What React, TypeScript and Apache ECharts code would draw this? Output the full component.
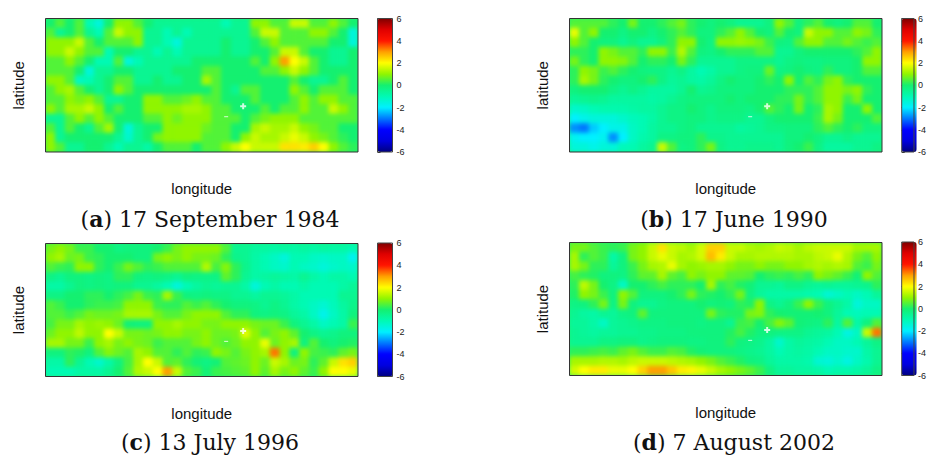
import React, { useEffect, useRef } from "react";
import * as echarts from "echarts";

const panelA = [
[0,.5,0,.5,-1,-1.5,0,1,1,.5,0,-.5,-.5,-.5,-.5,-.5,-.5,-.5,-1,-.5,-.5,1,1,.5,.5,1.5,1.5,.5,.5,1,.5,0],
[.5,-.5,0,.5,-.5,-1,.5,1.5,1,1,-.5,-.5,-1,-.5,-1,-.5,-.5,-.5,-.5,-.5,-.5,.5,1.5,1.5,.5,.5,.5,1,1,.5,0,-1.5],
[1,1,1,1.5,.5,0,.5,.5,.5,1,-.5,-.5,-1,-1.5,-.5,-.5,-.5,-.5,0,-.5,-.5,0,.5,1,.5,.5,.5,.5,.5,0,0,-1.5],
[1,1,1.5,1,.5,.5,-1,0,0,-.5,-.5,-1,-.5,-1,-.5,-.5,-.5,-.5,0,-.5,-.5,0,0,.5,1.5,1.5,.5,0,0,-.5,-.5,0],
[.5,.5,1,.5,0,-1,-1,.5,-1.5,-1,-.5,-.5,-.5,-.5,-.5,0,0,0,0,0,0,.5,0,1,3,2,1.5,.5,0,-.5,-.5,0],
[.5,.5,.5,0,-1.5,-.5,-.5,0,0,-.5,-.5,-.5,-.5,0,0,0,.5,.5,0,0,0,0,.5,.5,1,1.5,1,.5,0,0,0,0],
[1,1,.5,-1.2,-1,-.5,0,.5,.5,-.5,-.5,0,-.5,-.5,0,0,1.2,.5,0,0,0,0,0,0,0,.5,0,-.5,-.5,0,.5,0],
[.5,1,1.2,.5,0,-.5,0,1,.5,0,0,0,0,0,0,0,0,.5,0,-.5,.5,.5,0,0,0,1,.5,0,.5,.5,.5,0],
[.5,.5,1,.8,1,.5,-.5,-.5,0,0,1,1,.5,.5,.7,1,.5,.5,0,0,0,.5,0,0,0,.5,1,.5,1,1,.5,.5],
[1,.5,1.2,1.2,1.5,1,0,.5,0,0,1,1,1,1,1.2,1.2,1,.5,.5,0,0,0,.5,0,.5,.5,1,.5,.5,1.5,1,.5],
[-.5,-.5,.5,1,.5,1,.5,0,0,0,.5,.5,1,.7,1,1,1,.5,.5,.5,0,.5,.8,1,1,1,.5,.5,.5,.5,.5,.5],
[.5,-.5,.5,0,-.5,.5,1.2,0,-1.5,-.5,0,0,1,1,1,1,.7,.5,.5,0,0,1.2,1.5,1.2,1.2,1.5,1,.8,.5,.5,0,0],
[1,-.5,0,0,0,0,0,-.5,-1.3,-.5,0,.8,1,1,1,1,.5,.5,.5,0,1,1.5,1.2,1.2,1.5,1.8,1.5,1,.8,.5,.2,0],
[1,.5,-.5,-.5,0,0,-.5,-1,-.5,-.5,-.8,0,.5,.5,.5,0,.5,.5,1,1.5,2,1.5,1.5,1.5,2.3,2.3,2.2,2.5,2,1,.5,.2],
];

const panelB = [
[.5,.5,.5,.5,.2,0,.8,0,0,.2,.5,.8,.2,0,-.2,0,-.2,-.5,-.5,-.5,-.2,1,.5,-.2,.2,.5,0,-.2,0,.5,.5,0],
[1.8,.5,1,0,0,-.3,0,0,-.3,0,.2,.5,.2,-.2,-.2,.2,.5,1,.5,0,-.2,.5,0,-.2,1.5,1,1,.5,.5,1,.8,.2],
[1,.5,0,-.2,-.2,-.5,-.2,-.5,-.5,-.2,.2,1,1,0,-.3,1,1,1.1,1,.8,.3,-.2,-.3,.5,1,1,.5,.5,.8,.5,.3,.5],
[.2,.2,0,1,.8,.5,.5,.2,1,1,.3,1.3,.5,-.2,-.3,0,.2,.2,.2,.5,.5,-.5,-.5,-.2,0,0,0,0,0,.2,.5,1],
[.8,.2,0,1,1,.9,.5,0,.2,.2,0,.8,.2,-.5,-.5,-.5,-.5,-.3,-.3,-.3,-.3,-.5,-.3,-.2,-.3,-.3,-.2,-.2,-.2,0,1,1],
[.2,1,.8,.3,.5,.2,0,-.2,-.3,-.3,-.5,-.3,-.7,-1,-.8,-.5,-.5,-.3,-.2,-.2,.7,-.3,-.2,0,-.2,-.3,.2,-.2,-.2,0,.5,.5],
[.2,1.2,.8,.2,0,-.2,-.2,0,.2,-.3,-.6,-.5,-.7,-.8,-.6,-.3,0,-.2,-.2,0,.2,0,1,0,.5,.2,.8,1,.2,0,0,0],
[-.2,0,0,0,-.3,-.5,-.3,-.5,-.7,-.7,-.7,-.5,0,-.5,-.4,-.2,-.2,-.2,-.2,0,0,0,.2,.2,.2,.5,1,1,.8,1,.2,0],
[-.6,-.5,-.4,-.5,-.7,-.7,-.7,-.7,-.8,-.7,-.5,-.3,-.2,-.2,-.2,-.2,0,-.2,0,0,0,.2,.2,.8,.2,.5,1,1,.3,.8,0,0],
[-1.3,-1.2,-1,-.9,-.9,-.9,-.8,-.7,-.7,-.5,-.3,-.3,0,-.2,-.4,-.2,-.2,-.2,-.3,0,.5,.2,0,.8,0,.2,1.2,1,0,0,1,0],
[-2,-1.7,-1.5,-1.5,-1.5,-1.3,-1.1,-1,-.8,-.5,-.3,-.3,-.2,-.2,-.4,-.3,-.3,-.3,-.5,-.5,-.2,0,0,0,0,.3,1.2,.8,0,0,0,.5],
[-2.8,-3,-2.3,-2,-1.7,-1.7,-1.2,-1,-.7,-.5,-.5,-.3,-.2,-.5,-.5,-.5,-.5,-.7,-.6,-.5,-.3,-.3,-.2,-.2,-.2,.2,.5,.2,0,.2,-.2,-.2],
[-1.8,-2,-2,-1.8,-2.8,-2,-1.2,-.9,-.7,-.3,-.3,-.2,-.2,.2,-.4,-.4,-.5,-.5,-.5,-.5,-.5,-.5,-.2,-.2,0,-.2,-.5,-.5,-.3,-.5,-.5,-.5],
[-1.5,-1.5,-1.7,-1.5,-1.5,-1.1,-1,-.7,-.5,1.5,.5,-.3,-.2,.2,.8,-.3,-.5,-.5,-.4,-.4,-.4,-.5,-.2,0,.3,-.3,-.7,-.7,-.7,-.5,-.5,-.3],
];

const panelC = [
[.8,1,.8,.3,.3,0,0,-.3,-.2,-.2,-.2,0,.3,.8,1,1,1,1,.5,-.5,-.5,-.7,-.7,-.8,-.7,-.8,-.7,-.8,-.7,-.8,-.8,-1],
[1,1.2,.7,.8,.3,.2,0,0,0,-.2,-.2,.8,1,.8,1,.8,.8,.7,.2,-.4,-.5,-.8,-1,-1.2,-1.5,-1,-1,-1.2,-1.3,-1.2,-1.2,-1.8],
[.5,.3,.2,1,1,.2,0,.3,.8,.5,.2,.3,.5,.5,.5,.5,1.3,.4,.9,.2,-.4,-.8,-1,-1.2,-1.3,-1,-1.2,-1.3,-1.5,-1.3,-1.2,-1.3],
[-.3,-.5,-.2,-.2,-.3,-.2,-.3,.2,.2,-.2,-.3,-.2,-.3,-.5,-.2,-.3,-.3,-.3,.6,.2,-.5,-.8,-.7,-.6,-.7,-.8,-.5,-.8,-1,-.8,-.8,-1],
[-.8,-.8,-.5,-.2,-.3,-.2,-.3,-.2,-.2,-.5,-.5,-.7,-1,-1.5,-1,-.7,-.5,-.6,-.5,-.5,-.8,-1.5,-1,-.8,-1,-1,-.8,-1,-1,-1,-.8,-.6],
[-.3,-.3,0,0,.2,.2,0,.2,.4,.8,.3,.2,1.2,.3,-.2,-.3,-.2,-.3,-.3,-.5,-.5,-.7,-.5,-.5,-.6,-.8,-1,-1,-1,-1,-.5,-.5],
[.5,.3,0,0,.2,.3,.3,.4,1,1,1,.3,.2,.2,.5,.3,.5,.2,0,-.2,-.2,-.3,-.5,-.3,-.5,-.8,-1,-1.2,-1.4,-1.1,-.7,-.4],
[.5,.5,.3,.5,.8,.7,.7,.8,1.2,1.2,1.2,.8,.5,.5,.8,1,1,1,.5,.2,.2,-.2,-.3,-.2,-.3,-.6,-.8,-1.2,-1.7,-1.2,-.8,-.2],
[.4,.8,.8,1.2,1,1.1,1,.7,-.1,-.2,-.2,1,1,1.2,1,1,.8,.8,1,1,1,.8,.7,.7,.3,-.2,-.5,-.8,-1.2,-1,-.8,.3],
[.7,1,1,1.4,1,1,2,1.5,.8,.8,.7,.8,1,1,.8,.8,1,.7,.7,.8,1.7,1,.5,.8,1,.6,0,-.3,-.5,-.4,-.2,-.2],
[1.2,1.2,.8,.8,.3,1,1.2,.8,1,.8,.7,.3,.5,.5,.5,.8,1,.7,.5,.7,1,1,1.8,.7,1,1.2,-.2,.5,0,-.2,0,.1],
[-.2,-.2,.2,.1,-.2,.5,.9,.7,.5,1.2,1,.5,.5,.2,.5,.2,.3,1,.8,.5,.8,1,1.2,3.3,1,-.2,1,.4,.3,.2,.6,.8],
[-.8,-.8,.2,-.5,-1,-1.3,-.8,-.2,.4,1.2,2,1.5,.5,.6,.2,-.1,-.3,-.1,.5,.6,.7,1,.7,1.5,1.2,.7,.8,.2,.6,1.5,2.3,2.5],
[-1,-1,-1,-.8,-.8,-.8,-.5,0,.5,1.3,1.5,2,3,1.5,.5,.3,-.1,.3,.4,.5,.6,1,.6,1.2,.8,1,.6,.3,1,2,2,1.8],
];

const panelD = [
[.8,.8,.5,.3,.2,.3,.8,1,1.5,2.3,1.5,1.4,1.2,1.6,2.5,2.5,1.5,1.5,1.3,1.2,1.3,1.5,1.4,1.2,1.4,1.5,1.5,1.5,1.5,1.2,1.2,1.2],
[1.2,.2,.5,.3,-.8,-.2,.8,1,1.5,1.8,1.5,1.2,1.3,1.6,2.7,2.2,1.5,1.2,1.2,1.3,1.3,1.3,1.3,1.2,1.2,1.4,1.5,1.8,1.3,.8,.5,1],
[1.2,.8,.2,.2,-.6,-.2,.3,.8,1.2,1.3,1.8,1.2,1,1.1,1.2,1.2,1,.8,.8,1,.8,.8,1,1,1.2,1.3,1.2,1.3,1.2,.5,.3,.8],
[.4,.2,.1,-.2,-.2,-.3,.2,.6,.6,1.2,.6,.4,1,.8,1,1,.6,.6,.5,0,.2,.3,.2,.4,.2,1,.8,.6,.3,-.1,1,.5],
[.2,1.4,.8,0,-.3,-1.2,0,0,.2,.4,.2,.2,.2,0,1.2,.2,.4,.1,-.1,-.5,-.5,-.6,-.3,-.3,-.5,-.6,-.5,-.6,-.6,-.5,-.4,.2],
[.1,1,.8,.3,-.2,1,.5,-.2,-.2,-.2,0,.2,.8,.2,.1,0,.2,.8,-.2,-.6,-.8,-.8,-.8,-.8,-.9,-1,-1.4,-1.2,-1,-1.2,-1,-.6],
[-.3,-.2,.2,.8,-.3,.8,-.2,-.5,-.5,-.3,-.2,-.2,-.2,0,-.2,-.1,-.2,.2,.1,1,-.3,-.5,-.2,.3,1,.3,-.2,-.5,-.8,-1.5,-1.2,-1.2],
[-.5,-.7,-.8,-.5,-.6,-.3,-.2,.6,-.2,-.2,-.2,-.2,-.2,-.2,.8,.2,.1,.1,.8,.9,.2,0,-.1,-.1,-.1,0,-.2,-.6,-1,-1.1,-1,-1],
[-.6,-.6,-.8,-1.2,-.6,-.5,-.4,-.3,-.3,-.3,-.2,-.2,-.2,-.3,-.2,-.2,-.5,.3,.4,0,.4,.9,.6,-.1,-.2,-.3,.2,-.7,.5,-.8,-.2,.5],
[-.5,-.6,-.7,-.6,-.6,-.5,-.5,-.4,-.4,-.3,-.3,-.3,-.2,-.2,-.2,-.2,.1,.4,.1,-.2,-.2,-.3,-.3,-.3,-.5,-.6,-.7,-1,-1.6,-1.2,1.5,3.3],
[-.5,-.5,-.5,-.3,-.3,-.2,-.2,-.4,-.3,-.2,-.2,-.2,-.3,-.3,-.2,-.2,.2,-.2,-.3,-.4,-.7,-1.3,-.8,-.6,-.7,-.8,-1,-1.2,-1.2,-1,-.6,-.3],
[.2,.2,.3,.4,.3,.6,.8,.5,.3,.3,.5,.4,.1,-.1,-.2,-.2,-.2,-.3,-.4,-.5,-.7,-1,-.8,-.7,-.8,-1,-1.2,-1.2,-1.3,-1.3,-.8,-.5],
[1.2,1.2,1.2,1.3,1.3,1.2,1.4,1.5,1.5,1.5,1.4,1.3,1.2,1,.8,.5,.3,.1,-.2,-.3,-.6,-.8,-.8,-.8,-.9,-1.4,-1.5,-1.3,-1.6,-1.2,-.9,-.5],
[1.6,2,2.2,2.2,1.8,1.8,2,2.5,3,3,2.6,2.2,2.1,1.8,1.5,1.2,1,.8,.6,.3,-.2,-.6,-.6,-.7,-.7,-.8,-1,-.9,-.9,-.8,-.6,-.3],
];

const captions = ["a", "b", "c", "d"];
const captionRest = [" 17 September 1984", " 17 June 1990", " 13 July 1996", " 7 August 2002"];
const palette = ["#00007f", "#0000e0", "#0000ff", "#0078ff", "#00f0ff", "#00fab4", "#14f070", "#90f500", "#ffff00", "#ffa000", "#ff1400", "#e00000", "#7f0000"];
const maskPlus = [20.24, 9.2];
const maskDash = [18.5, 10.3];
const PLUS = "path://M2,0H4V2H6V4H4V6H2V4H0V2H2Z";

const panels = [panelA, panelB, panelC, panelD];
const layout = [
  { x: 45.5, y: 18.5, w: 312.5, h: 133.5, bx: 377.5, by: 18.5, bh: 133.5, cx: 210, cy: 222 },
  { x: 569.5, y: 18.5, w: 312.5, h: 133.5, bx: 901.7, by: 18.5, bh: 133.5, cx: 734, cy: 222 },
  { x: 45.5, y: 243.5, w: 312.5, h: 133, bx: 377.5, by: 243, bh: 133.5, cx: 210, cy: 445 },
  { x: 569.5, y: 242.5, w: 312.5, h: 133, bx: 901.7, by: 242, bh: 133.5, cx: 734, cy: 445 },
];

function buildOption() {
  const grid: any[] = [], xAxis: any[] = [], yAxis: any[] = [], series: any[] = [], visualMap: any[] = [], title: any[] = [];
  panels.forEach((rows, i) => {
    const L = layout[i];
    const nx = rows[0].length, ny = rows.length;
    const g0 = grid.length;
    const rect = { left: L.x, top: L.y, width: L.w, height: L.h };
    grid.push({ ...rect, show: true, z: 5, borderColor: "#333", borderWidth: 1, backgroundColor: "transparent" });
    xAxis.push({
      gridIndex: g0, type: "category", data: rows[0].map((_, c) => String(c)),
      name: "longitude", nameLocation: "middle", nameGap: 29,
      nameTextStyle: { fontFamily: "Liberation Sans", fontSize: 15, color: "#111" },
      axisLine: { show: false }, axisTick: { show: false }, axisLabel: { show: false }, splitLine: { show: false },
    });
    yAxis.push({
      gridIndex: g0, type: "category", inverse: true, data: rows.map((_, r) => String(r)),
      name: "latitude", nameLocation: "middle", nameGap: 20,
      nameTextStyle: { fontFamily: "Liberation Sans", fontSize: 15, color: "#111" },
      axisLine: { show: false }, axisTick: { show: false }, axisLabel: { show: false }, splitLine: { show: false },
    });
    const cells: number[][] = [];
    rows.forEach((row, r) => row.forEach((v, c) => cells.push([c, r, v])));
    const sIdx = series.length;
    series.push({ type: "heatmap", xAxisIndex: g0, yAxisIndex: g0, data: cells, progressive: 0, emphasis: { disabled: true }, itemStyle: { borderWidth: 0 } });
    visualMap.push({
      type: "continuous", seriesIndex: sIdx, min: -6, max: 6, calculable: false, hoverLink: false,
      left: L.bx, top: L.by, itemWidth: 15, itemHeight: L.bh, padding: 0, text: null,
      inRange: { color: palette },
    });
    const g1 = grid.length;
    grid.push({ ...rect, show: true, borderWidth: 0, backgroundColor: "#20f078" });
    xAxis.push({ gridIndex: g1, type: "value", min: 0, max: nx, show: false });
    yAxis.push({ gridIndex: g1, type: "value", min: 0, max: ny, inverse: true, show: false });
    series.push({ type: "scatter", xAxisIndex: g1, yAxisIndex: g1, z: 4, symbol: PLUS, symbolSize: 6, silent: true, itemStyle: { color: "#fff" }, data: [maskPlus] });
    series.push({ type: "scatter", xAxisIndex: g1, yAxisIndex: g1, z: 4, symbol: "rect", symbolSize: [4, 1], silent: true, itemStyle: { color: "#fff" }, data: [maskDash] });
    const g2 = grid.length;
    grid.push({ left: L.bx, top: L.by, width: 15, height: L.bh, show: true, z: 5, borderColor: "#444", borderWidth: 1, backgroundColor: "transparent" });
    xAxis.push({ gridIndex: g2, type: "value", min: 0, max: 1, show: false });
    yAxis.push({
      gridIndex: g2, type: "value", position: "right", min: -6, max: 6, interval: 2,
      axisLine: { show: false }, splitLine: { show: false },
      axisTick: { show: true, length: 3, lineStyle: { color: "#333" } },
      axisLabel: { fontFamily: "Liberation Sans", fontSize: 9, color: "#222", margin: 4, formatter: (v: number) => String(v), showMinLabel: true, showMaxLabel: true },
    });
    title.push({
      text: `({b|${captions[i]}}){n|${captionRest[i]}}`,
      left: L.cx, top: L.cy - 14, textAlign: "center", padding: 0,
      textStyle: {
        fontFamily: "DejaVu Serif", fontSize: 22, fontWeight: "normal", color: "#111",
        rich: {
          b: { fontFamily: "DejaVu Serif", fontSize: 22, fontWeight: "bold", color: "#111" },
          n: { fontFamily: "DejaVu Serif", fontSize: 22, color: "#111" },
        },
      },
    });
  });
  return { animation: false, backgroundColor: "#fff", grid, xAxis, yAxis, series, visualMap, title };
}

// Softens the heatmap cells of each panel, so that the field reads as a continuous surface.
function softenCells(svg: SVGSVGElement, sd: number) {
  const NS = "http://www.w3.org/2000/svg";
  const defs = document.createElementNS(NS, "defs");
  svg.insertBefore(defs, svg.firstChild);
  const paths = Array.from(svg.querySelectorAll("path")) as SVGPathElement[];
  layout.forEach((L, i) => {
    const cw = L.w / panels[i][0].length, ch = L.h / panels[i].length;
    const cells = paths.filter((p) => {
      const b = p.getBBox();
      return b.x >= L.x - 1 && b.x + b.width <= L.x + L.w + 1 && b.y >= L.y - 1 && b.y + b.height <= L.y + L.h + 1 &&
        Math.abs(b.width - cw) < 1.5 && Math.abs(b.height - ch) < 1.5;
    });
    if (!cells.length) return;
    const filter = document.createElementNS(NS, "filter");
    filter.setAttribute("id", `soft${i}`);
    filter.setAttribute("filterUnits", "userSpaceOnUse");
    filter.setAttribute("x", String(L.x - 15));
    filter.setAttribute("y", String(L.y - 15));
    filter.setAttribute("width", String(L.w + 30));
    filter.setAttribute("height", String(L.h + 30));
    filter.setAttribute("color-interpolation-filters", "sRGB");
    const blur = document.createElementNS(NS, "feGaussianBlur");
    blur.setAttribute("stdDeviation", String(sd));
    filter.appendChild(blur);
    defs.appendChild(filter);
    const clip = document.createElementNS(NS, "clipPath");
    clip.setAttribute("id", `softClip${i}`);
    const r = document.createElementNS(NS, "rect");
    r.setAttribute("x", String(L.x)); r.setAttribute("y", String(L.y));
    r.setAttribute("width", String(L.w)); r.setAttribute("height", String(L.h));
    clip.appendChild(r);
    defs.appendChild(clip);
    const outer = document.createElementNS(NS, "g");
    outer.setAttribute("clip-path", `url(#softClip${i})`);
    const inner = document.createElementNS(NS, "g");
    inner.setAttribute("filter", `url(#soft${i})`);
    outer.appendChild(inner);
    cells[0].parentNode!.insertBefore(outer, cells[0]);
    cells.forEach((c) => inner.appendChild(c));
  });
}

export default function App() {
  const ref = useRef<HTMLDivElement>(null);
  useEffect(() => {
    document.body.style.margin = "0";
    const chart = echarts.init(ref.current!, undefined, { renderer: "svg" });
    chart.setOption(buildOption() as any);
    const svg = ref.current!.querySelector("svg") as SVGSVGElement | null;
    if (svg) softenCells(svg, 2.2);
    return () => chart.dispose();
  }, []);
  return <div ref={ref} style={{ width: 929, height: 457 }} />;
}
